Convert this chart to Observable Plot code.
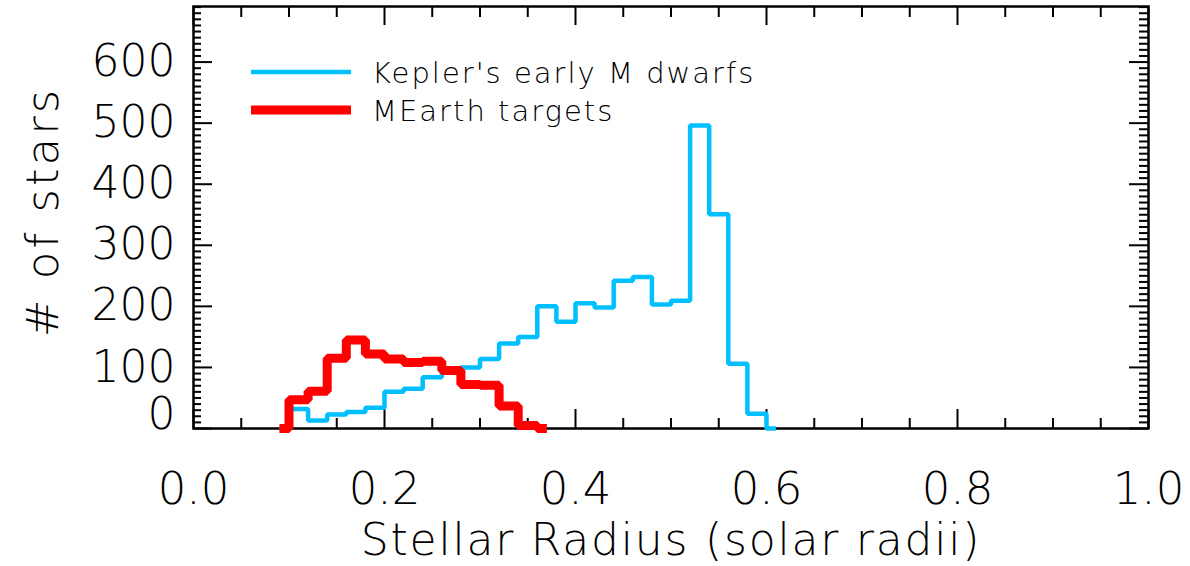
<!DOCTYPE html>
<html>
<head>
<meta charset="utf-8">
<script src="https://cdn.jsdelivr.net/npm/d3@7"></script>
<script src="https://cdn.jsdelivr.net/npm/@observablehq/plot@0.6"></script>
<style>
  html, body { margin: 0; padding: 0; background: #fff; }
  #wrap { position: relative; width: 1190px; height: 566px; overflow: hidden; }
  #legend { position: absolute; left: 0; top: 0; pointer-events: none; }
  #legend text { font-family: "DejaVu Sans", sans-serif; font-weight: 200; fill: #000; }
  svg text { font-weight: 200; }
  .xtitle text { letter-spacing: 1.8px; }
</style>
</head>
<body>
<div id="wrap"></div>
<script>
// ---- data (bin centres in solar radii, counts per 0.02 bin) ----
const keplerRadius = [0.09, 0.11, 0.13, 0.15, 0.17, 0.19, 0.21, 0.23, 0.25, 0.27, 0.29, 0.31, 0.33, 0.35,
                      0.37, 0.39, 0.41, 0.43, 0.45, 0.47, 0.49, 0.51, 0.53, 0.55, 0.57, 0.59, 0.61];
const keplerCounts = [0, 32, 13, 23, 27, 34, 60, 65, 84, 93, 100, 114, 139, 150,
                      200, 175, 205, 198, 242, 248, 203, 209, 496, 351, 106, 24, 0];
const mearthRadius = [0.09, 0.11, 0.13, 0.15, 0.17, 0.19, 0.21, 0.23, 0.25, 0.27, 0.29, 0.31, 0.33, 0.35, 0.37];
const mearthCounts = [0, 47, 61, 115, 145, 122, 114, 108, 110, 95, 72, 71, 37, 5, 0];

const seriesNames = ["Kepler's early M dwarfs", "MEarth targets"];
const seriesColors = ["#00BFFF", "#FF0000"];

const xMajorTicks = [0.0, 0.2, 0.4, 0.6, 0.8, 1.0];
const xMinorTicks = [0.05, 0.1, 0.15, 0.25, 0.3, 0.35, 0.45, 0.5, 0.55, 0.65, 0.7, 0.75, 0.85, 0.9, 0.95];
const yLabelTicks = [100, 200, 300, 400, 500, 600];
const yZeroTick = [0];
const yMajorTicks = [0, 100, 200, 300, 400, 500, 600];
const yMinorTicks = d3.range(10, 691, 10).filter(v => v % 100 !== 0);

const xLabel = "Stellar Radius (solar radii)";
const yLabel = "# of stars";

// ---- build tables ----
const kepler = keplerRadius.map((r, i) => ({r, n: keplerCounts[i]}));
const mearth = mearthRadius.map((r, i) => ({r, n: mearthCounts[i]}));

const W = 1190, H = 566;
const mL = 193, mR = 42, mT = 6, mB = 138;
const innerH = H - mT - mB;   // 422
const innerW = W - mL - mR;   // 955
const font = "DejaVu Sans";

const chart = Plot.plot({
  width: W,
  height: H,
  marginLeft: mL,
  marginRight: mR,
  marginTop: mT,
  marginBottom: mB,
  style: {fontFamily: font, background: "#fff", color: "#000", overflow: "visible"},
  x: {domain: [0, 1], axis: null},
  y: {domain: [0, 691], axis: null},
  marks: [
    // ticks (inward, on all four sides)
    Plot.ruleX(xMinorTicks, {x: d => d, insetTop: innerH - 10, stroke: "#000", strokeWidth: 2}),
    Plot.ruleX(xMajorTicks, {x: d => d, insetTop: innerH - 19, stroke: "#000", strokeWidth: 2}),
    Plot.ruleX(xMinorTicks, {x: d => d, insetBottom: innerH - 11, stroke: "#000", strokeWidth: 2}),
    Plot.ruleX(xMajorTicks, {x: d => d, insetBottom: innerH - 19, stroke: "#000", strokeWidth: 2}),
    Plot.ruleY(yMinorTicks, {y: d => d, insetRight: innerW - 8, stroke: "#000", strokeWidth: 2}),
    Plot.ruleY(yMajorTicks, {y: d => d, insetRight: innerW - 19, stroke: "#000", strokeWidth: 2}),
    Plot.ruleY(yMinorTicks, {y: d => d, insetLeft: innerW - 9, stroke: "#000", strokeWidth: 2}),
    Plot.ruleY(yMajorTicks, {y: d => d, insetLeft: innerW - 19, stroke: "#000", strokeWidth: 2}),
    Plot.frame({stroke: "#000", strokeWidth: 2.5}),
    // tick labels
    Plot.axisX(xMajorTicks, {anchor: "bottom", tickSize: 0, tickPadding: 44, fontSize: 45,
                             tickFormat: d3.format(".1f"), label: null}),
    Plot.axisY(yLabelTicks, {anchor: "left", tickSize: 0, tickPadding: 18, fontSize: 44, label: null}),
    Plot.axisY(yZeroTick, {anchor: "left", tickSize: 0, tickPadding: 18, fontSize: 44, label: null, dy: -14}),
    // x axis title
    Plot.text([xLabel], {text: d => d, frameAnchor: "bottom", dy: 112, fontSize: 44,
                         lineAnchor: "middle", fill: "#000", className: "xtitle"}),
    // histograms
    Plot.line(kepler, {x: "r", y: "n", curve: "step", stroke: seriesColors[0], strokeWidth: 4.5,
                       strokeLinejoin: "miter", strokeLinecap: "butt"}),
    Plot.line(mearth, {x: "r", y: "n", curve: "step", stroke: seriesColors[1], strokeWidth: 9,
                       strokeLinejoin: "miter", strokeLinecap: "butt"})
  ]
});

const wrap = document.getElementById("wrap");
wrap.appendChild(chart);

// ---- legend and y title overlay ----
const ns = "http://www.w3.org/2000/svg";
const leg = document.createElementNS(ns, "svg");
leg.setAttribute("id", "legend");
leg.setAttribute("width", 800);
leg.setAttribute("height", 420);
const rows = [
  {name: seriesNames[0], color: seriesColors[0], w: 4.5, y: 72, base: 83},
  {name: seriesNames[1], color: seriesColors[1], w: 9, y: 110, base: 121}
];
for (const r of rows) {
  const ln = document.createElementNS(ns, "line");
  ln.setAttribute("x1", 251); ln.setAttribute("x2", 351);
  ln.setAttribute("y1", r.y); ln.setAttribute("y2", r.y);
  ln.setAttribute("stroke", r.color); ln.setAttribute("stroke-width", r.w);
  leg.appendChild(ln);
  const t = document.createElementNS(ns, "text");
  t.setAttribute("x", 372); t.setAttribute("y", r.base);
  t.setAttribute("font-size", 29);
  t.setAttribute("letter-spacing", 2);
  t.textContent = r.name;
  leg.appendChild(t);
}
const yt = document.createElementNS(ns, "text");
yt.setAttribute("transform", "translate(42,212) rotate(-90)");
yt.setAttribute("text-anchor", "middle");
yt.setAttribute("dominant-baseline", "central");
yt.setAttribute("font-size", 45);
yt.setAttribute("letter-spacing", 3);
yt.textContent = yLabel;
leg.appendChild(yt);
wrap.appendChild(leg);
</script>
</body>
</html>
